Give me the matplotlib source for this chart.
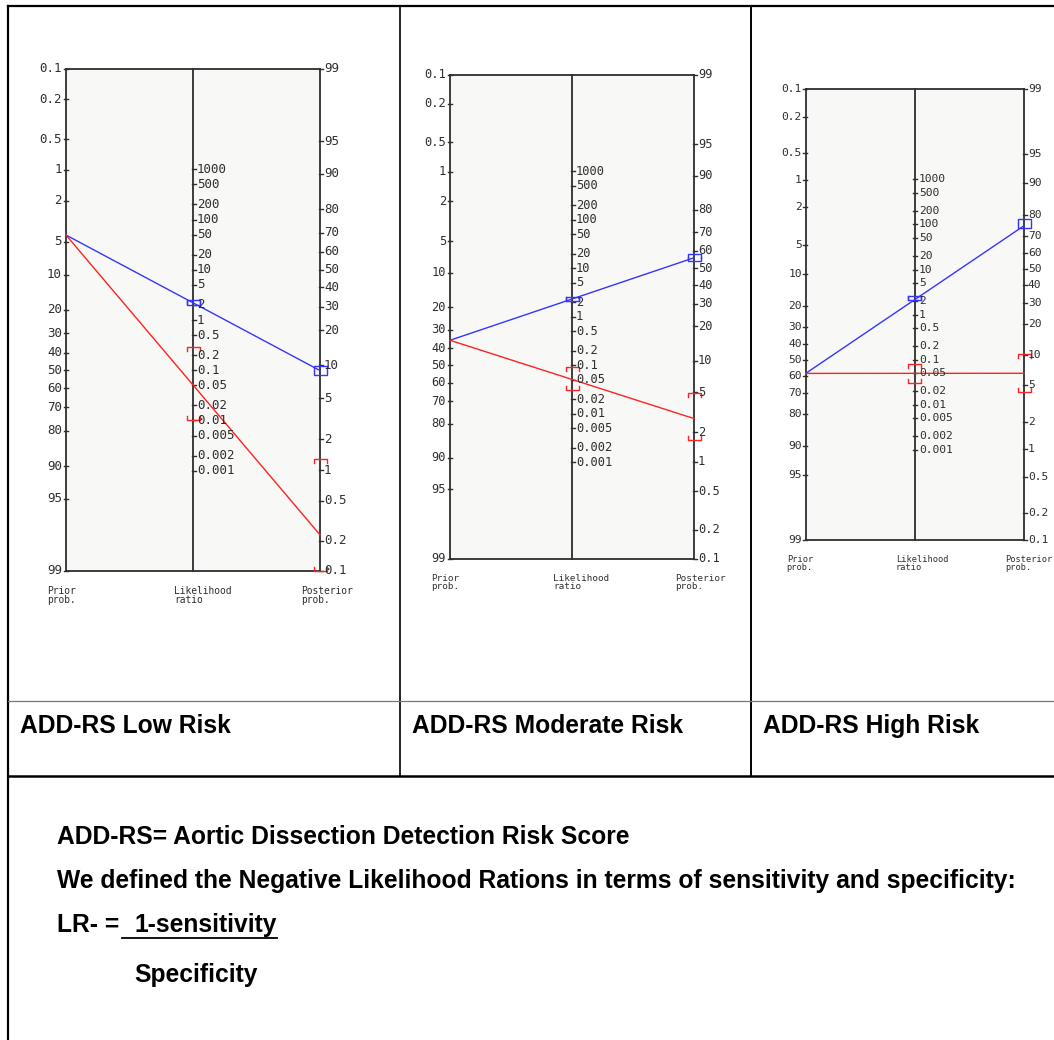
import numpy as np
import matplotlib
matplotlib.use('Agg')
import matplotlib.pyplot as plt

W, H = 1054, 1040

# values
captions = ['ADD-RS Low Risk', 'ADD-RS Moderate Risk', 'ADD-RS High Risk']
prior = [4.3, 35.5, 58.5]            # pre-test probability, %
lr_pos = [2.2, 2.32, 2.16]
lr_pos_lo = [2.0, 2.16, 2.06]
lr_pos_hi = [2.45, 2.54, 2.57]
lr_neg = [0.051, 0.051, 0.05]
lr_neg_lo = [0.0103, 0.031, 0.031]
lr_neg_hi = [0.29, 0.094, 0.082]

prior_ticks = [0.1, 0.2, 0.5, 1, 2, 5, 10, 20, 30, 40, 50, 60, 70, 80, 90, 95, 99]
post_ticks = [99, 95, 90, 80, 70, 60, 50, 40, 30, 20, 10, 5, 2, 1, 0.5, 0.2, 0.1]
lr_ticks = [1000, 500, 200, 100, 50, 20, 10, 5, 2, 1, 0.5, 0.2, 0.1,
            0.05, 0.02, 0.01, 0.005, 0.002, 0.001]

# layout of each nomogram in pixels: left axis x, right axis x, top y, bottom y
boxes = [(66, 320, 69, 571), (450, 694, 74.5, 559), (805.7, 1024, 89.3, 540)]
caption_x = [20, 412, 763]


def logit(p):
    return np.log(p / (1 - p))


LO, HI = logit(0.001), logit(0.99)
T = HI - LO


def y_prior(p):
    return logit(p / 100) - LO


def y_post(q):
    return HI - logit(q / 100)


def y_lr(lr):
    return T / 2 - np.log(lr) / 2


def post_prob(p, lr):
    o = p / (100 - p) * lr
    return 100 * o / (1 + o)


fig = plt.figure(figsize=(W / 100, H / 100), dpi=100)

# table frame
frame = fig.add_axes([0, 0, 1, 1])
frame.set_xlim(0, W)
frame.set_ylim(H, 0)
frame.axis('off')
frame.plot([8, W], [6, 6], color='black', lw=1.6)
frame.plot([8, 8], [6, H], color='black', lw=1.6)
frame.plot([400, 400], [6, 776], color='black', lw=1.2)
frame.plot([751, 751], [6, 776], color='black', lw=1.4)
frame.plot([8, W], [701, 701], color='#777777', lw=0.9)
frame.plot([8, W], [776, 776], color='black', lw=1.8)

bold = dict(family='Liberation Sans', weight='bold', fontsize=17.7, color='black', va='center')
for cx, cap in zip(caption_x, captions):
    frame.text(cx, 726, cap, **bold)

frame.text(57, 837, 'ADD-RS= Aortic Dissection Detection Risk Score', **bold)
frame.text(57, 881, 'We defined the Negative Likelihood Rations in terms of sensitivity and specificity:', **bold)
t_lr = frame.text(57, 925, 'LR- =', **bold)
t_sens = frame.text(134, 925, '1-sensitivity', **bold)
frame.text(134, 975, 'Specificity', **bold)

fig.canvas.draw()
inv = frame.transData.inverted()
b1 = t_lr.get_window_extent()
b2 = t_sens.get_window_extent()
x_start = inv.transform((b1.x1, b1.y0))[0] + 3
x_end, y_ul = inv.transform((b2.x1, b2.y0))
frame.plot([x_start, x_end], [y_ul + 1, y_ul + 1], color='black', lw=1.3)

AXC = '#2e2e2e'
BLUE = '#3535ff'
RED = '#ff2222'
mono = 'DejaVu Sans Mono'


def fmt(v):
    return '%g' % v


for i, (xl, xr, yt, yb) in enumerate(boxes):
    ax = fig.add_axes([xl / W, 1 - yb / H, (xr - xl) / W, (yb - yt) / H])
    ax.set_xlim(0, 1)
    ax.set_ylim(T, 0)
    ax.set_xticks([])
    ax.set_yticks([])
    for s in ax.spines.values():
        s.set_visible(False)
    ax.set_facecolor('#f8f8f6')

    px = 1 / (xr - xl)
    py = T / (yb - yt)
    sc = (yb - yt) / 502
    fs = 9 * sc

    # the three scales and the top/bottom rules
    for x in (0, 0.5, 1):
        ax.plot([x, x], [0, T], color=AXC, lw=1.3, clip_on=False)
    ax.plot([0, 1], [0, 0], color=AXC, lw=1.3, clip_on=False)
    ax.plot([0, 1], [T, T], color=AXC, lw=1.3, clip_on=False)

    for v in prior_ticks:
        y = y_prior(v)
        ax.plot([-2.5 * px, 1.5 * px], [y, y], color=AXC, lw=1, clip_on=False)
        ax.text(-4 * px, y, fmt(v), ha='right', va='center', fontsize=fs,
                family=mono, color=AXC)
    for v in post_ticks:
        y = y_post(v)
        ax.plot([1 - 1.5 * px, 1 + 2.5 * px], [y, y], color=AXC, lw=1, clip_on=False)
        ax.text(1 + 4 * px, y, fmt(v), ha='left', va='center', fontsize=fs,
                family=mono, color=AXC)
    for v in lr_ticks:
        y = y_lr(v)
        ax.plot([0.5 - 1.5 * px, 0.5 + 2.5 * px], [y, y], color=AXC, lw=1, clip_on=False)
        ax.text(0.5 + 4 * px, y, fmt(v), ha='left', va='center', fontsize=fs,
                family=mono, color=AXC)

    for x, lab in ((0, 'Prior\nprob.'), (0.5, 'Likelihood\nratio'), (1, 'Posterior\nprob.')):
        ax.text(x - 19 * px, T + 15 * py, lab, ha='left', va='top', fontsize=6.9 * sc,
                family=mono, color=AXC, linespacing=0.85)

    hw = 6.5 * px
    tk = 4 * py

    def bracket(x, y1, y2, color):
        ya, yb2 = sorted([np.clip(y1, 0, T), np.clip(y2, 0, T)])
        ax.plot([x - hw, x - hw, x + hw, x + hw], [ya + tk, ya, ya, ya + tk],
                color=color, lw=1, clip_on=False)
        ax.plot([x - hw, x - hw, x + hw, x + hw], [yb2 - tk, yb2, yb2, yb2 - tk],
                color=color, lw=1, clip_on=False)

    p = prior[i]
    for lr, lo, hi, col in ((lr_pos[i], lr_pos_lo[i], lr_pos_hi[i], BLUE),
                            (lr_neg[i], lr_neg_lo[i], lr_neg_hi[i], RED)):
        q = post_prob(p, lr)
        ax.plot([0, 1], [y_prior(p), y_post(q)], color=col, lw=1, clip_on=False)
        bracket(0.5, y_lr(lo), y_lr(hi), col)
        bracket(1, y_post(post_prob(p, lo)), y_post(post_prob(p, hi)), col)

fig.savefig('out.png', dpi=100)
